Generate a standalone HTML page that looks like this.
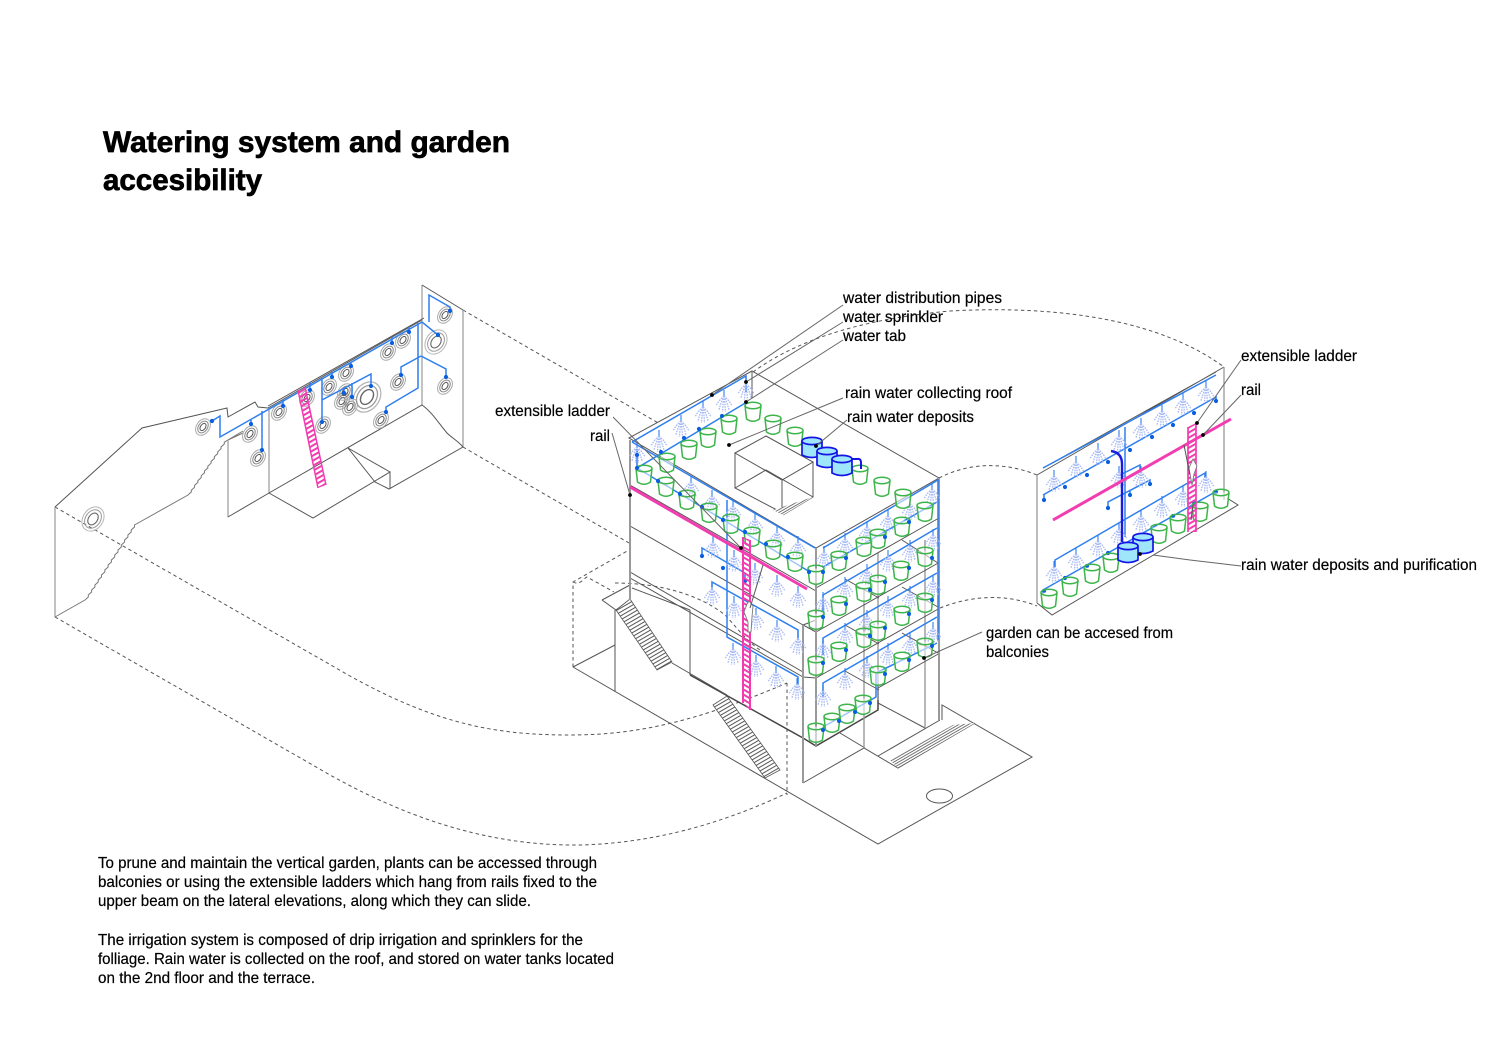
<!DOCTYPE html>
<html lang="en">
<head>
<meta charset="utf-8">
<title>Watering system and garden accesibility</title>
<style>
html,body{margin:0;padding:0;background:#fff}
svg{display:block}
text{font-family:"Liberation Sans",sans-serif;fill:#000;font-size:16px;stroke:#000;stroke-width:.2}
.g{fill:none;stroke:#555;stroke-width:1}
.t{fill:none;stroke:#999;stroke-width:2}
.d{fill:none;stroke:#555;stroke-width:1;stroke-dasharray:3.5 3}
.b{fill:none;stroke:#2e7fef;stroke-width:1.5}
.l{fill:none;stroke:#666;stroke-width:1}
</style>
</head>
<body>
<svg xmlns="http://www.w3.org/2000/svg" width="1500" height="1060" viewBox="0 0 1500 1060">
<defs>
<g id="p"><path d="M-8-6.5 L-6.5 7 Q0 11.5 6.5 7 L8-6.5" fill="#fff" fill-opacity=".55" stroke="#3db54a" stroke-width="1.5"/><ellipse cx="0" cy="-6.5" rx="8" ry="3.2" fill="none" stroke="#3db54a" stroke-width="1.5"/></g>
<g id="s"><path d="M0-12V-6" stroke="#2e7fef" stroke-width="1.1" fill="none"/><path d="M0-6Q-5-2-8 4M0-6Q-3 0-5 8M0-6Q-1 1-1.5 10M0-6Q1 1 1.5 10M0-6Q3 0 5 8M0-6Q5-2 8 4" stroke="#a8baf5" stroke-width="1.3" stroke-dasharray="1.6 1" fill="none"/></g>
<g id="k"><path d="M-10-7V7Q0 12 10 7V-7" fill="#9fe6fb" stroke="#1414e6" stroke-width="1.7"/><ellipse cx="0" cy="-7" rx="10" ry="3.6" fill="#9fe6fb" stroke="#1414e6" stroke-width="1.7"/></g>
<circle id="o" r="2.1" fill="#0a5fe0"/>
<circle id="n" r="1.9" fill="#000"/>
<g id="c" fill="none" transform="rotate(35)"><ellipse rx="6.5" ry="9" stroke="#aaa" stroke-width="1"/><ellipse rx="4.5" ry="6.5" stroke="#888" stroke-width="1"/><ellipse rx="2.5" ry="4" stroke="#555" stroke-width="1"/></g>
<g id="cb" fill="none" transform="rotate(35)"><ellipse rx="10" ry="13" stroke="#b5b5b5" stroke-width="1"/><ellipse rx="7.5" ry="10" stroke="#999" stroke-width="1"/><ellipse rx="4.5" ry="6.5" stroke="#666" stroke-width="1.1"/></g>
<pattern id="st" width="5" height="3.4" patternUnits="userSpaceOnUse" patternTransform="rotate(-30)"><rect width="5" height="3.4" fill="#fff"/><rect width="5" height="1" fill="#555"/></pattern>
<pattern id="ht" width="5" height="2.4" patternUnits="userSpaceOnUse" patternTransform="rotate(-30)"><rect width="5" height="2.4" fill="#fff"/><rect width="5" height=".9" fill="#666"/></pattern>
<pattern id="lr" width="6" height="4.4" patternUnits="userSpaceOnUse" patternTransform="rotate(30)"><rect width="6" height="2" fill="#f23cb0"/></pattern>
<pattern id="ll" width="6" height="4.4" patternUnits="userSpaceOnUse" patternTransform="rotate(-30)"><rect width="6" height="2" fill="#f23cb0"/></pattern>
</defs>

<!-- title -->
<text x="103" y="152" font-weight="bold" style="font-size:30px;stroke-width:.7" textLength="407" lengthAdjust="spacingAndGlyphs">Watering system and garden</text>
<text x="103" y="190" font-weight="bold" style="font-size:30px;stroke-width:.7" textLength="159" lengthAdjust="spacingAndGlyphs">accesibility</text>

<!-- dashed projection lines -->
<path class="d" d="M463 310L660 424"/>
<path class="d" d="M463 447L629 543"/>
<path class="d" d="M55 507L350 676C440 726 500 735 570 735C640 735 700 720 787 683"/>
<path class="d" d="M55 617L330 775C420 825 500 846 580 845C660 843 730 820 787 793"/>
<path class="d" d="M787 683V795"/>
<path class="d" d="M573 667V582L629 550"/>
<path class="d" d="M573 582C580 586 584 578 587 577L614 592"/>
<path class="d" d="M615 583C660 583 700 595 725 615C735 625 745 640 760 650"/>
<path class="d" d="M753 372C790 345 850 320 950 311C1060 305 1160 320 1224 367"/>
<path class="d" d="M939 478C970 462 1005 462 1037 475"/>
<path class="d" d="M940 608C970 596 1005 593 1037 606"/>

<!-- left wall -->
<path class="g" d="M55 507L142 428L227 408L228 417L255 402L258 407L268 408L422 320" stroke="#666"/>
<path class="t" style="stroke-width:1.2" d="M55 507V617"/>
<path class="g" style="stroke:#777" d="M55 617L85 600l3.3-3l0-2l3.3-3l0-2l3.3-3l0-2l3.3-3l0-2l3.3-3l0-2l3.3-3l0-2l3.3-3l0-2l3.3-3l0-2l3.3-3l0-2l3.3-3l0-2l3.3-3l0-2l3.3-3l0-2l3.3-3l0-2l3.3-3l0-2l3.3-3l0-2L188 495l3.3-3l0-1.8l3.3-3l0-1.8l3.3-3l0-1.8l3.3-3l0-1.8l3.3-3l0-1.8l3.3-3l0-1.8l3.3-3l0-1.8l3.3-3l0-1.8l3.3-3l0-1.8l3.3-3l0-1.8l3.3-3l0-1.8L243 431M228 440L243 433"/>
<path class="t" style="stroke-width:1.2" d="M228 440V517M269 408V493M422 285V405M463 310V447"/>
<path class="g" d="M422 285L463 310M424 318L268 406M228 517L269 493L422 405C432 412 440 425 447 433C452 438 458 441 463 447L389 489L375 482L348 448M269 493L313 518L390 472V489M348 448L390 472"/>
<g>
<use href="#cb" transform="translate(93 519)"/><use href="#c" transform="translate(203 427)"/><use href="#c" transform="translate(250 434)"/><use href="#c" transform="translate(258 458)"/><use href="#c" transform="translate(279 412)"/><use href="#c" transform="translate(307 398)"/><use href="#c" transform="translate(323 425)"/><use href="#c" transform="translate(329 387)"/><use href="#c" transform="translate(346 373)"/><use href="#c" transform="translate(342 401)"/><use href="#c" transform="translate(350 407)"/><use href="#c" transform="translate(345 392)"/><use href="#cb" transform="translate(367 397) scale(1.25)"/><use href="#c" transform="translate(381 420)"/><use href="#c" transform="translate(388 352)"/><use href="#c" transform="translate(403 340)"/><use href="#c" transform="translate(398 382)"/><use href="#cb" transform="translate(436 342)"/><use href="#c" transform="translate(445 315)"/><use href="#c" transform="translate(445 386)"/>
</g>
<path class="b" d="M212 421L220 416V437L422 322L438 335M418 323V388L386 407V412M421 356L401 367V375M421 356L446 369V377M429 322V295L450 307V311M262 411V450M251 424V420M283 406V400M310 390V382M322 378V422M322 400L371 374V386M352 383V397M344 393V388M332 377V372M351 366V362M392 343V337M409 332V327"/>
<g>
<use href="#o" x="212" y="421"/><use href="#o" x="262" y="450"/><use href="#o" x="251" y="424"/><use href="#o" x="283" y="406"/><use href="#o" x="310" y="390"/><use href="#o" x="322" y="422"/><use href="#o" x="371" y="386"/><use href="#o" x="352" y="397"/><use href="#o" x="344" y="393"/><use href="#o" x="332" y="377"/><use href="#o" x="351" y="366"/><use href="#o" x="392" y="343"/><use href="#o" x="409" y="332"/><use href="#o" x="438" y="335"/><use href="#o" x="450" y="311"/><use href="#o" x="401" y="375"/><use href="#o" x="446" y="377"/><use href="#o" x="386" y="412"/>
</g>
<polygon points="298,390 305,387 326,485 318,488" fill="url(#ll)"/>
<path d="M298 390L318 488M305 387L326 485" fill="none" stroke="#f23cb0" stroke-width="1.5"/>

<!-- ground and lower building -->
<path class="g" d="M573 667L878 844L1032 757L942 705V720M573 667L615 645"/>
<path class="g" d="M615 610V692M602 600L630 585M602 600L616 610L630 600M630 578L803 677M630 572L803 672M690 610V675M632 588L690 610"/>
<polygon points="616,610 630,599 672,662 657,670" fill="url(#st)" stroke="#555" stroke-width=".8"/>
<polygon points="713,705 727,696 780,770 765,778" fill="url(#st)" stroke="#555" stroke-width=".8"/>
<path class="g" style="stroke-width:1.5;stroke:#444" d="M690 675L803 738L816 746L878 710V683"/>
<path class="g" d="M672 663L727 695M803 783L864 748L898 768L975 723M878 756L940 720M840 733L865 748M878 703L925 728M803 738V783"/>
<polygon points="890,760 898,768 975,723 953,725" fill="url(#ht)"/>
<ellipse cx="939.5" cy="796" rx="13" ry="7" fill="#fff" stroke="#555" stroke-width="1"/>
<path class="t" style="stroke-width:1.4" d="M864 590V748M925 540V728M878 553V700"/>

<!-- building -->
<polygon points="629,438 752,371 939,478 816,548" fill="none" stroke="#555" stroke-width="1"/>
<path class="g" d="M752 372V398M630 485L816 591M630 526L803 625L816 632M816 588L939 518M816 632L940 562M816 678L940 608M878 688L940 653M803 625L816 620M803 677L816 678"/>
<path class="g" d="M845 579L879 598M845 625L879 644M845 671L879 690M902 540L938 563M902 587L938 607M902 633L938 653"/>
<path class="t" d="M630 440V600M816 548V746M803 625V783M939 478V720"/>
<path class="g" d="M735 453L766 436L813 462L782 480ZM735 453V488L777 510M813 462V497L783 515M782 480V512M735 488L766 470L813 497"/>
<polygon points="773,510 813,497 783,515" fill="url(#ht)"/>

<!-- pipes on building -->
<path class="b" d="M632 442L746 376V392M637 449V468L747 402M637 468L810 572M632 442L815 548M823 567L937 502M823 548L938 480V640"/>
<path class="b" d="M702 556V548L745 573V581M712 587V582L798 630V638M727 500V637L798 677V685"/>
<path class="b" d="M823 612V595L937 528M823 655V638L937 573M823 697V683L937 617M823 727L876 697V673L937 643"/>
<g>
<use href="#s" x="637" y="453"/><use href="#s" x="659" y="442"/><use href="#s" x="681" y="427"/><use href="#s" x="703" y="413"/><use href="#s" x="724" y="402"/><use href="#s" x="746" y="390"/>
<use href="#s" x="691" y="488"/><use href="#s" x="712" y="502"/><use href="#s" x="733" y="512"/><use href="#s" x="755" y="525"/><use href="#s" x="777" y="538"/><use href="#s" x="798" y="548"/><use href="#s" x="824" y="558"/>
<use href="#s" x="845" y="545"/><use href="#s" x="867" y="533"/><use href="#s" x="888" y="522"/><use href="#s" x="910" y="510"/><use href="#s" x="932" y="495"/>
<use href="#s" x="713" y="548"/><use href="#s" x="734" y="562"/><use href="#s" x="755" y="575"/><use href="#s" x="777" y="587"/><use href="#s" x="798" y="598"/>
<use href="#s" x="712" y="595"/><use href="#s" x="734" y="608"/><use href="#s" x="756" y="620"/><use href="#s" x="777" y="632"/><use href="#s" x="798" y="645"/>
<use href="#s" x="733" y="655"/><use href="#s" x="756" y="667"/><use href="#s" x="776" y="678"/><use href="#s" x="797" y="690"/>
<use href="#s" x="823" y="604"/><use href="#s" x="845" y="589"/><use href="#s" x="867" y="576"/><use href="#s" x="888" y="562"/><use href="#s" x="910" y="552"/><use href="#s" x="933" y="541"/>
<use href="#s" x="823" y="650"/><use href="#s" x="845" y="635"/><use href="#s" x="867" y="622"/><use href="#s" x="888" y="608"/><use href="#s" x="910" y="598"/><use href="#s" x="933" y="587"/>
<use href="#s" x="823" y="697"/><use href="#s" x="845" y="680"/><use href="#s" x="867" y="668"/><use href="#s" x="888" y="655"/><use href="#s" x="910" y="645"/><use href="#s" x="933" y="634"/>
</g>

<!-- pots on building -->
<g>
<use href="#p" x="753" y="412"/><use href="#p" x="729" y="425"/><use href="#p" x="708" y="438"/><use href="#p" x="689" y="450"/><use href="#p" x="667" y="463"/><use href="#p" x="644" y="475"/><use href="#p" x="773" y="425"/><use href="#p" x="795" y="437"/><use href="#p" x="860" y="475"/><use href="#p" x="882" y="487"/><use href="#p" x="903" y="499"/><use href="#p" x="925" y="512"/>
<use href="#p" x="666" y="487"/><use href="#p" x="687" y="500"/><use href="#p" x="709" y="513"/><use href="#p" x="731" y="524"/><use href="#p" x="752" y="537"/><use href="#p" x="773" y="550"/><use href="#p" x="795" y="562"/><use href="#p" x="816" y="575"/>
<use href="#p" x="839" y="561"/><use href="#p" x="864" y="547"/><use href="#p" x="878" y="539"/><use href="#p" x="902" y="527"/>
<use href="#p" x="816" y="620"/><use href="#p" x="839" y="606"/><use href="#p" x="864" y="592"/><use href="#p" x="878" y="585"/><use href="#p" x="901" y="571"/><use href="#p" x="925" y="557"/>
<use href="#p" x="816" y="666"/><use href="#p" x="839" y="652"/><use href="#p" x="864" y="638"/><use href="#p" x="878" y="631"/><use href="#p" x="902" y="616"/><use href="#p" x="925" y="603"/>
<use href="#p" x="878" y="676"/><use href="#p" x="902" y="662"/><use href="#p" x="925" y="648"/>
<use href="#p" x="816" y="733"/><use href="#p" x="832" y="723"/><use href="#p" x="847" y="714"/><use href="#p" x="863" y="705"/>
</g>
<g>
<use href="#o" x="637" y="455"/><use href="#o" x="637" y="468"/><use href="#o" x="661" y="452"/><use href="#o" x="684" y="438"/><use href="#o" x="699" y="429"/><use href="#o" x="722" y="416"/><use href="#o" x="658" y="481"/><use href="#o" x="680" y="494"/><use href="#o" x="702" y="507"/><use href="#o" x="723" y="520"/><use href="#o" x="745" y="532"/><use href="#o" x="766" y="544"/><use href="#o" x="788" y="557"/><use href="#o" x="809" y="572"/><use href="#o" x="823" y="572"/><use href="#o" x="846" y="558"/><use href="#o" x="885" y="537"/><use href="#o" x="909" y="522"/><use href="#o" x="702" y="556"/><use href="#o" x="723" y="568"/><use href="#o" x="745" y="581"/><use href="#o" x="823" y="617"/><use href="#o" x="846" y="604"/><use href="#o" x="870" y="590"/><use href="#o" x="885" y="582"/><use href="#o" x="909" y="568"/><use href="#o" x="932" y="558"/><use href="#o" x="823" y="663"/><use href="#o" x="846" y="650"/><use href="#o" x="870" y="636"/><use href="#o" x="885" y="628"/><use href="#o" x="909" y="614"/><use href="#o" x="932" y="600"/><use href="#o" x="885" y="674"/><use href="#o" x="909" y="660"/><use href="#o" x="932" y="646"/><use href="#o" x="823" y="730"/><use href="#o" x="839" y="721"/><use href="#o" x="855" y="712"/><use href="#o" x="870" y="703"/>
</g>

<!-- tanks and pink rail/ladder -->
<use href="#k" x="812" y="448"/><use href="#k" x="827" y="458"/><use href="#k" x="842" y="466"/>
<path d="M852 459H857Q861 458 861 463V469" fill="none" stroke="#1414e6" stroke-width="2"/>
<polygon points="743,537 750,540 750,710 743,703" fill="url(#lr)"/>
<path d="M743 537V703M750 540V710" fill="none" stroke="#f23cb0" stroke-width="2"/>
<path d="M630 487L807 589" fill="none" stroke="#f23cb0" stroke-width="3"/>
<path d="M747 604L744 612L748 622L748 632L751 632L752 617L753 606L749 601Z" fill="#fff" stroke="#777" stroke-width=".9"/>
<path class="g" d="M763 565L750 608"/>

<!-- right panel -->
<path class="g" d="M1037 475L1224 367M1043 468L1216 372M1037 603L1052 615L1238 505L1227 498"/>
<path class="t" style="stroke-width:1.3" d="M1037 475V603M1224 367V500"/>
<path class="b" d="M1043 468L1216 375M1043 495L1216 397V401M1044 500V495M1125 427V537M1108 508V502L1150 480V484M1120 475L1140 465V470M1130 490V495M1055 567V560L1205 473V478M1043 590L1215 492M1043 590V595"/>
<g>
<use href="#s" x="1054" y="482"/><use href="#s" x="1076" y="468"/><use href="#s" x="1098" y="455"/><use href="#s" x="1119" y="442"/><use href="#s" x="1141" y="430"/><use href="#s" x="1162" y="417"/><use href="#s" x="1183" y="405"/><use href="#s" x="1206" y="393"/>
<use href="#s" x="1141" y="478"/><use href="#s" x="1119" y="478"/>
<use href="#s" x="1054" y="573"/><use href="#s" x="1076" y="560"/><use href="#s" x="1098" y="547"/><use href="#s" x="1119" y="535"/><use href="#s" x="1141" y="522"/><use href="#s" x="1162" y="508"/><use href="#s" x="1183" y="497"/><use href="#s" x="1206" y="483"/>
<use href="#o" x="1044" y="500"/><use href="#o" x="1065" y="487"/><use href="#o" x="1087" y="475"/><use href="#o" x="1108" y="462"/><use href="#o" x="1130" y="450"/><use href="#o" x="1152" y="437"/><use href="#o" x="1173" y="425"/><use href="#o" x="1194" y="413"/><use href="#o" x="1216" y="401"/>
<use href="#o" x="1108" y="508"/><use href="#o" x="1130" y="495"/><use href="#o" x="1150" y="484"/>
<use href="#o" x="1044" y="591"/><use href="#o" x="1065" y="578"/><use href="#o" x="1087" y="566"/><use href="#o" x="1108" y="553"/><use href="#o" x="1173" y="516"/><use href="#o" x="1194" y="503"/><use href="#o" x="1216" y="492"/>
<use href="#p" x="1049" y="599"/><use href="#p" x="1070" y="587"/><use href="#p" x="1092" y="574"/><use href="#p" x="1111" y="563"/><use href="#p" x="1159" y="534"/><use href="#p" x="1178" y="524"/><use href="#p" x="1200" y="512"/><use href="#p" x="1221" y="499"/>
</g>
<path d="M1111 451C1118 452 1122 456 1122 464V542" fill="none" stroke="#1a1ae0" stroke-width="2.4"/>
<use href="#k" x="1143" y="544"/><use href="#k" x="1128" y="553"/>
<path d="M1053 520L1231 419" fill="none" stroke="#f23cb0" stroke-width="3"/>
<polygon points="1188,427 1196,423 1196,532 1188,532" fill="url(#ll)"/>
<path d="M1188 427V532M1196 423V532" fill="none" stroke="#f23cb0" stroke-width="1.7"/>
<path d="M1193 459L1197 466L1194 474L1192 485L1190 474L1189 468Z" fill="#fff" stroke="#777" stroke-width=".9"/>
<path class="g" d="M1184 445L1190 475M1193 505L1191 520"/>

<!-- leaders -->
<path class="l" d="M843 305L712 395M843 322L746 382M843 340L746 402M843 398L729 445M847 420L816 446M613 417L741 548M612 433L630 495M1241 360L1197 423M1241 395L1203 435M1241 566L1190 560L1153 555M982 632L924 658"/>
<g>
<use href="#n" x="712" y="395"/><use href="#n" x="746" y="382"/><use href="#n" x="746" y="402"/><use href="#n" x="729" y="445"/><use href="#n" x="816" y="446"/><use href="#n" x="741" y="548"/><use href="#n" x="630" y="495"/><use href="#n" x="1197" y="423"/><use href="#n" x="1203" y="435"/><use href="#n" x="1140" y="554"/><use href="#n" x="924" y="658"/>
</g>

<!-- labels -->
<text x="843" y="303" textLength="159" lengthAdjust="spacingAndGlyphs">water distribution pipes</text>
<text x="843" y="322" textLength="100" lengthAdjust="spacingAndGlyphs">water sprinkler</text>
<text x="843" y="341" textLength="63" lengthAdjust="spacingAndGlyphs">water tab</text>
<text x="845" y="398" textLength="167" lengthAdjust="spacingAndGlyphs">rain water collecting roof</text>
<text x="847" y="422" textLength="127" lengthAdjust="spacingAndGlyphs">rain water deposits</text>
<text x="495" y="416" textLength="115" lengthAdjust="spacingAndGlyphs">extensible ladder</text>
<text x="590" y="441" textLength="20" lengthAdjust="spacingAndGlyphs">rail</text>
<text x="1241" y="361" textLength="116" lengthAdjust="spacingAndGlyphs">extensible ladder</text>
<text x="1241" y="395" textLength="20" lengthAdjust="spacingAndGlyphs">rail</text>
<text x="1241" y="570" textLength="236" lengthAdjust="spacingAndGlyphs">rain water deposits and purification</text>
<text x="986" y="638" textLength="187" lengthAdjust="spacingAndGlyphs">garden can be accesed from</text>
<text x="986" y="657" textLength="63" lengthAdjust="spacingAndGlyphs">balconies</text>

<text x="98" y="868" textLength="499" lengthAdjust="spacingAndGlyphs">To prune and maintain the vertical garden, plants can be accessed through</text>
<text x="98" y="887" textLength="499" lengthAdjust="spacingAndGlyphs">balconies or using the extensible ladders which hang from rails fixed to the</text>
<text x="98" y="906" textLength="433" lengthAdjust="spacingAndGlyphs">upper beam on the lateral elevations, along which they can slide.</text>
<text x="98" y="945" textLength="485" lengthAdjust="spacingAndGlyphs">The irrigation system is composed of drip irrigation and sprinklers for the</text>
<text x="98" y="964" textLength="516" lengthAdjust="spacingAndGlyphs">folliage. Rain water is collected on the roof, and stored on water tanks located</text>
<text x="98" y="983" textLength="217" lengthAdjust="spacingAndGlyphs">on the 2nd floor and the terrace.</text>
</svg>
</body>
</html>
